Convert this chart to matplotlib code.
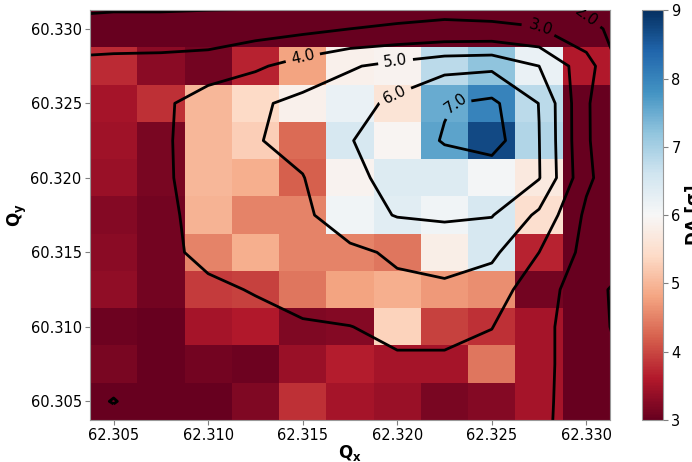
import numpy as np
import matplotlib.pyplot as plt

# tune scan: cell centres of the working-point grid
qx = np.linspace(62.305, 62.330, 11)
qy = np.linspace(60.305, 60.330, 11)

# dynamic aperture [sigma] per working point, rows listed from Qy = 60.330 down to 60.305
da_rows = [
    [2.60, 2.60, 2.50, 2.50, 2.60, 2.70, 2.70, 2.60, 2.50, 2.30, 2.00],
    [3.75, 3.30, 3.10, 3.70, 4.80, 5.85, 5.90, 6.80, 7.20, 6.20, 3.60],
    [3.50, 3.80, 5.00, 5.40, 5.85, 6.20, 5.60, 7.50, 8.00, 6.80, 2.80],
    [3.45, 3.15, 5.00, 5.25, 4.30, 6.50, 5.95, 7.60, 8.70, 6.90, 2.80],
    [3.40, 3.15, 5.00, 4.90, 4.20, 5.90, 6.40, 6.40, 6.05, 5.70, 2.80],
    [3.25, 3.10, 4.95, 4.50, 4.50, 6.10, 6.35, 6.10, 6.50, 5.50, 2.80],
    [3.30, 3.10, 4.50, 4.90, 4.50, 4.50, 4.40, 5.80, 6.50, 3.70, 2.80],
    [3.35, 3.10, 3.90, 3.95, 4.40, 4.80, 4.90, 4.70, 4.60, 3.10, 2.80],
    [3.05, 2.90, 3.50, 3.60, 3.20, 3.25, 5.30, 3.95, 3.80, 3.50, 2.80],
    [3.15, 2.90, 3.10, 3.05, 3.40, 3.65, 3.50, 3.50, 4.40, 3.50, 2.80],
    [2.80, 2.90, 2.95, 3.20, 3.80, 3.50, 3.40, 3.15, 3.25, 3.50, 2.90],
]

# smoothed DA map for the iso-lines, one extra tune step on every side
qx_s = np.linspace(62.3025, 62.3325, 13)
qy_s = np.linspace(60.3025, 60.3325, 13)
da_smooth_rows = [
    [1.30, 1.40, 1.40, 1.45, 1.45, 2.20, 2.60, 2.70, 2.70, 2.60, 2.20, 1.40, 0.90],
    [2.40, 2.50, 2.50, 2.55, 2.60, 2.75, 3.00, 3.05, 3.10, 3.10, 3.05, 2.30, 1.45],
    [3.21, 3.25, 3.28, 3.35, 3.85, 4.40, 4.90, 5.30, 5.70, 5.80, 5.00, 3.41, 1.30],
    [3.40, 3.40, 3.75, 4.60, 4.85, 5.25, 5.60, 6.25, 6.95, 7.20, 5.98, 3.10, 1.80],
    [3.35, 3.60, 3.85, 4.45, 4.95, 5.25, 5.95, 6.60, 7.05, 7.40, 6.02, 3.10, 1.90],
    [3.30, 3.60, 3.85, 4.40, 4.70, 4.97, 5.70, 6.40, 6.60, 6.40, 6.05, 3.20, 1.90],
    [3.25, 3.55, 3.80, 4.30, 4.60, 4.80, 5.60, 6.05, 6.15, 6.05, 4.80, 2.80, 2.05],
    [3.20, 3.50, 3.80, 4.20, 4.45, 4.60, 4.80, 5.15, 5.35, 5.20, 4.00, 2.70, 2.20],
    [3.15, 3.40, 3.65, 3.85, 4.05, 4.35, 4.60, 4.80, 4.85, 4.50, 3.40, 2.50, 1.40],
    [3.05, 3.25, 3.45, 3.60, 3.75, 3.90, 3.98, 4.25, 4.25, 4.02, 3.30, 2.40, 1.60],
    [3.20, 3.30, 3.45, 3.55, 3.65, 3.70, 3.75, 3.85, 3.85, 3.70, 3.25, 2.50, 1.80],
    [3.30, 2.97, 3.35, 3.40, 3.50, 3.55, 3.60, 3.60, 3.60, 3.55, 3.20, 2.55, 1.90],
    [3.30, 3.40, 3.40, 3.45, 3.50, 3.50, 3.50, 3.50, 3.50, 3.45, 3.15, 2.60, 2.00],
]
levels = [2.0, 3.0, 4.0, 5.0, 6.0, 7.0]
# where the level labels sit (Qx, Qy)
label_pos = [(62.3302, 60.3312), (62.3277, 60.3303), (62.3150, 60.3281),
             (62.3199, 60.3279), (62.3199, 60.3255), (62.3231, 60.3250)]

da = np.array(da_rows)[::-1]
da_smooth = np.array(da_smooth_rows)[::-1]

fig = plt.figure(figsize=(6.92, 4.62), dpi=100)
ax = fig.add_axes([0.130, 0.0909, 0.7515, 0.887])

mesh = ax.pcolormesh(qx, qy, da, cmap="RdBu", vmin=3, vmax=9, shading="nearest")
cs = ax.contour(qx_s, qy_s, da_smooth, levels=levels, colors="k", linewidths=2)
ax.clabel(cs, fmt="%.1f", fontsize=11, manual=label_pos, inline_spacing=4)

ax.set_xlim(62.30375, 62.33125)
ax.set_ylim(60.30375, 60.33125)
ax.set_xticks([62.305, 62.310, 62.315, 62.320, 62.325, 62.330])
ax.set_yticks([60.305, 60.310, 60.315, 60.320, 60.325, 60.330])
ax.ticklabel_format(useOffset=False)
ax.tick_params(labelsize=10.5, color="0.5", length=3.5, pad=2.5)
for s in ax.spines.values():
    s.set_color("0.6")
ax.set_xlabel(r"$\mathbf{Q_x}$", fontsize=12, labelpad=0)
ax.set_ylabel(r"$\mathbf{Q_y}$", fontsize=12, labelpad=1)

cax = fig.add_axes([0.928, 0.0909, 0.030, 0.887])
cb = fig.colorbar(mesh, cax=cax)
cb.outline.set_edgecolor("0.6")
cb.ax.tick_params(labelsize=10.5, color="0.5", length=3.5, pad=2.5)
cb.set_label("DA [σ]", fontsize=12, fontweight="bold", labelpad=3)

fig.savefig("out.png", dpi=100)
